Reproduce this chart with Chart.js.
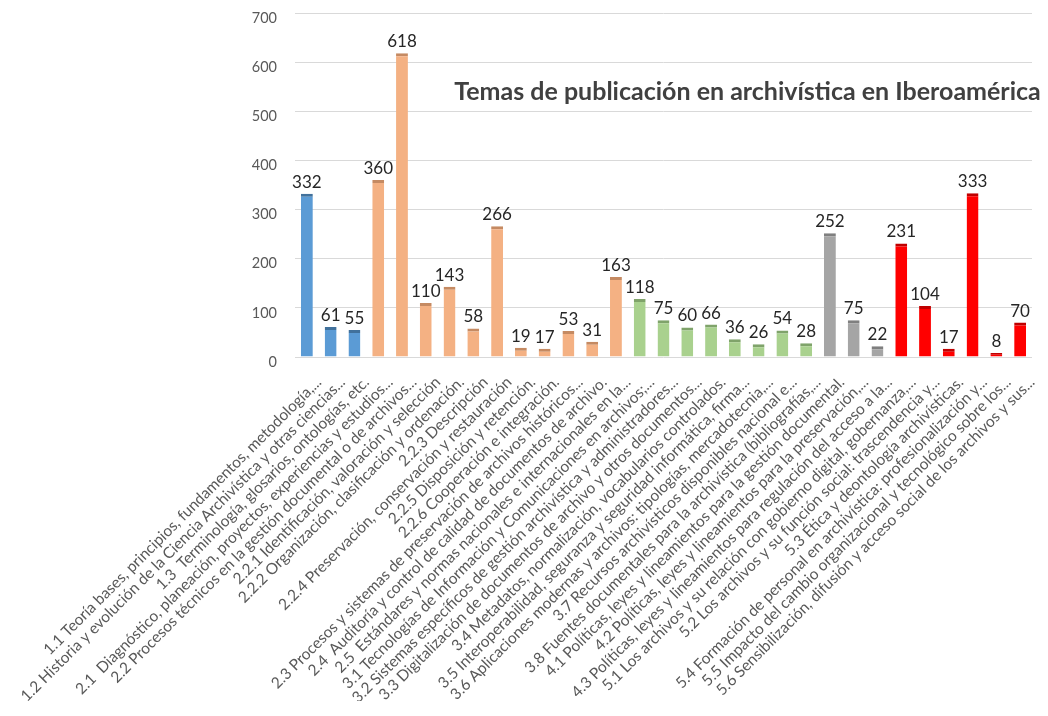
<!DOCTYPE html>
<html>
<head>
<meta charset="utf-8">
<script src="https://cdn.jsdelivr.net/npm/chart.js@4"></script>
<style>
  html, body { margin: 0; padding: 0; background: #fff; }
  #wrap { width: 1048px; height: 716px; }
</style>
</head>
<body>
<div id="wrap"><canvas id="temasChart" width="1048" height="716"></canvas></div>
<script>
const temas = [
    "1.1 Teoría bases, principios, fundamentos, metodología,...",
    "1.2 Historia y evolución de la Ciencia Archivística y otras ciencias...",
    "1.3  Terminología, glosarios, ontologías, etc.",
    "2.1  Diagnóstico, planeación, proyectos, experiencias y estudios...",
    "2.2 Procesos técnicos en la gestión documental o de archivos...",
    "2.2.1 Identificación, valoración y selección",
    "2.2.2 Organización, clasificación y ordenación.",
    "2.2.3 Descripción",
    "2.2.4 Preservación, conservación y restauración",
    "2.2.5 Disposición y retención.",
    "2.2.6 Cooperación e integración.",
    "2.3 Procesos y sistemas de preservación de archivos históricos...",
    "2.4  Auditoría y control de calidad de documentos de archivo.",
    "2.5  Estándares y normas nacionales e internacionales en la...",
    "3.1 Tecnologías de Información y Comunicaciones en archivos;...",
    "3.2 Sistemas específicos de gestión archivística y administradores...",
    "3.3 Digitalización de documentos de archivo y otros documentos...",
    "3.4 Metadatos, normalización, vocabularios controlados.",
    "3.5 Interoperabilidad, seguranza y seguridad informática, firma...",
    "3.6 Aplicaciones modernas y archivos: tipologías, mercadotecnia,...",
    "3.7 Recursos archivísticos disponibles nacional e...",
    "3.8 Fuentes documentales para la archivística (bibliografías,...",
    "4.1 Políticas, leyes y lineamientos para la gestión documental.",
    "4.2 Políticas, leyes y lineamientos para la preservación,...",
    "4.3 Políticas, leyes y lineamientos para regulación del acceso a la...",
    "5.1 Los archivos y su relación con gobierno digital, gobernanza,...",
    "5.2 Los archivos y su función social: trascendencia y...",
    "5.3 Ética y deontología archivísticas.",
    "5.4 Formación de personal en archivística: profesionalización y...",
    "5.5 Impacto del cambio organizacional y tecnológico sobre los...",
    "5.6 Sensibilización, difusión y acceso social de los archivos y sus..."
];

const publicaciones = [332, 61, 55, 360, 618, 110, 143, 58, 266, 19, 17, 53, 31, 163,
    118, 75, 60, 66, 36, 26, 54, 28, 252, 75, 22, 231, 104, 17, 333, 8, 70];

const yTicks = [0, 100, 200, 300, 400, 500, 600, 700];

// color by main theme number (first digit of the label)
const groupColors = { "1": "#5b9bd5", "2": "#f4b183", "3": "#a9d18e", "4": "#a5a5a5", "5": "#ff0000" };
const groupTops = { "1": "#41719c", "2": "#c58a62", "3": "#7fa36a", "4": "#7f7f7f", "5": "#c00000" };
const barColors = temas.map(t => groupColors[t.charAt(0)]);
const barTops = temas.map(t => groupTops[t.charAt(0)]);

const chartTitle = "Temas de publicación en archivística en Iberoamérica";
const fontFamily = 'Lato, "Open Sans", sans-serif';

const valueLabels = {
    id: 'valueLabels',
    afterDatasetsDraw(chart) {
        const ctx = chart.ctx;
        const meta = chart.getDatasetMeta(0);
        ctx.save();
        ctx.font = '17px ' + fontFamily;
        ctx.fillStyle = '#262626';
        ctx.textAlign = 'center';
        ctx.textBaseline = 'bottom';
        meta.data.forEach((bar, i) => {
            ctx.fillText(String(publicaciones[i]), bar.x, bar.y - 3);
        });
        ctx.restore();
    }
};

const insideTitle = {
    id: 'insideTitle',
    afterDraw(chart) {
        const ctx = chart.ctx;
        const area = chart.chartArea;
        ctx.save();
        ctx.font = 'bold 25px ' + fontFamily;
        ctx.fillStyle = '#404040';
        ctx.textAlign = 'center';
        ctx.textBaseline = 'middle';
        ctx.fillText(chartTitle, area.left + area.width * 0.614, area.top + 79);
        ctx.restore();
    }
};

new Chart(document.getElementById('temasChart').getContext('2d'), {
    type: 'bar',
    data: {
        labels: temas,
        datasets: [{
            label: 'Publicaciones',
            data: publicaciones,
            backgroundColor: barColors,
            borderColor: barTops,
            borderWidth: { top: 3, left: 0, right: 0, bottom: 0 },
            barPercentage: 0.5,
            categoryPercentage: 1.0
        }]
    },
    options: {
        responsive: false,
        animation: false,
        layout: { padding: { top: 13, right: 16, left: 245, bottom: 15 } },
        plugins: {
            legend: { display: false },
            title: { display: false },
            tooltip: { enabled: false }
        },
        scales: {
            x: {
                grid: { display: false },
                border: { display: false },
                ticks: {
                    autoSkip: false,
                    minRotation: 45,
                    maxRotation: 45,
                    color: '#595959',
                    font: { family: fontFamily, size: 15.5 },
                    padding: 8,
                    labelOffset: 12
                }
            },
            y: {
                min: 0,
                max: 700,
                afterBuildTicks(scale) {
                    scale.ticks = yTicks.map(v => ({ value: v }));
                },
                afterFit(scale) {
                    scale.width = 50;
                    scale.paddingTop = 8;
                    scale.paddingBottom = 8;
                },
                grid: { color: '#d9d9d9', lineWidth: 1, drawTicks: false },
                border: { display: false },
                ticks: {
                    color: '#595959',
                    font: { family: fontFamily, size: 14.5 },
                    padding: 18,
                    labelOffset: 5
                }
            }
        }
    },
    plugins: [valueLabels, insideTitle]
});
</script>
</body>
</html>
